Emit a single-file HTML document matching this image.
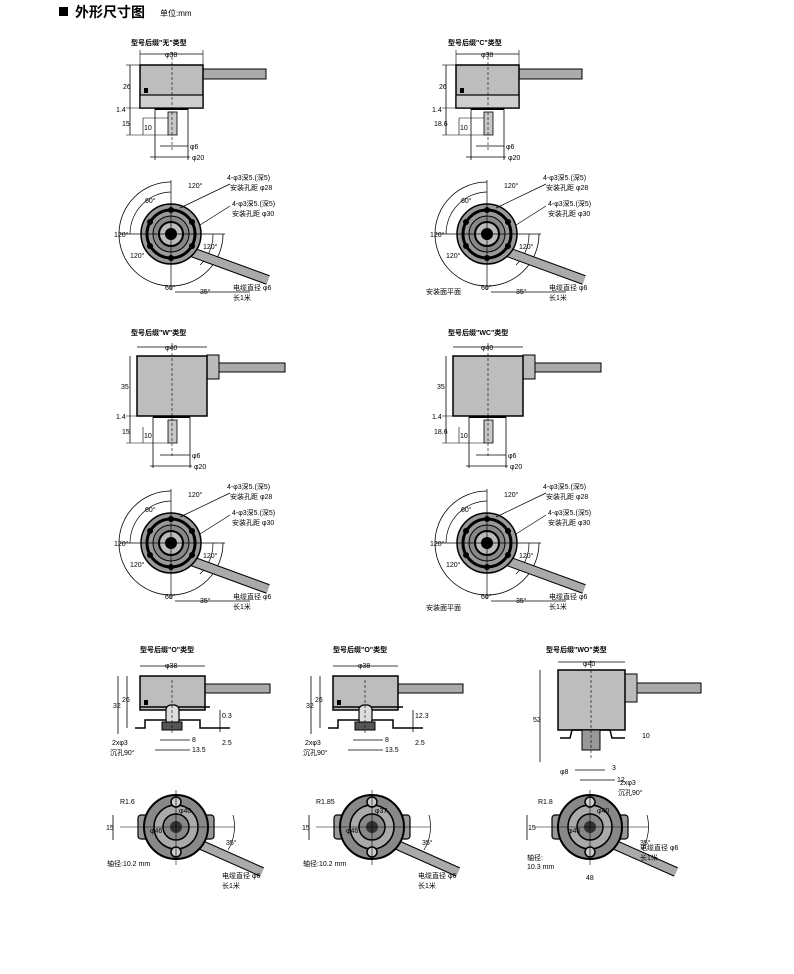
<!DOCTYPE html>
<html><head><meta charset="utf-8"><style>
html,body{margin:0;padding:0;background:#fff;}
svg{display:block;font-family:"Liberation Sans","Noto Sans CJK SC",sans-serif;}
text{font-size:7px;fill:#000;}
.b{font-weight:bold;}
</style></head><body>
<svg width="794" height="974" viewBox="0 0 794 974" xmlns="http://www.w3.org/2000/svg">
<defs>
<g id="side1">
  <line x1="140" y1="54" x2="203" y2="54" stroke="#000" stroke-width="0.8"/>
  <line x1="140" y1="50" x2="140" y2="65" stroke="#000" stroke-width="0.6"/>
  <line x1="203" y1="50" x2="203" y2="65" stroke="#000" stroke-width="0.6"/>
  <rect x="203" y="69" width="63" height="10" fill="#aaa" stroke="#000" stroke-width="1"/>
  <rect x="140" y="65" width="63" height="43" fill="#bdbdbd" stroke="#000" stroke-width="1.5"/>
  <rect x="140" y="95" width="63" height="13" fill="#cfcfcf" stroke="#000" stroke-width="1.2"/>
  <rect x="144" y="88" width="4" height="5" fill="#000"/>
  <line x1="155" y1="109" x2="188" y2="109" stroke="#000" stroke-width="2"/>
  <line x1="155" y1="109" x2="155" y2="160" stroke="#000" stroke-width="0.8"/>
  <line x1="188" y1="109" x2="188" y2="160" stroke="#000" stroke-width="0.8"/>
  <rect x="168" y="112" width="9" height="23" fill="#c8c8c8" stroke="#000" stroke-width="0.8"/>
  <line x1="172" y1="52" x2="172" y2="150" stroke="#000" stroke-width="0.6" stroke-dasharray="3,2"/>
  <line x1="130" y1="65" x2="130" y2="135" stroke="#000" stroke-width="0.8"/>
  <line x1="126" y1="65" x2="140" y2="65" stroke="#000" stroke-width="0.6"/>
  <line x1="126" y1="108" x2="155" y2="108" stroke="#000" stroke-width="0.6"/>
  <line x1="126" y1="135" x2="168" y2="135" stroke="#000" stroke-width="0.6"/>
  <line x1="143" y1="118" x2="143" y2="135" stroke="#000" stroke-width="0.6"/>
  <line x1="143" y1="118" x2="168" y2="118" stroke="#000" stroke-width="0.6"/>
  <line x1="160" y1="146" x2="188" y2="146" stroke="#000" stroke-width="0.8"/>
  <line x1="150" y1="157" x2="190" y2="157" stroke="#000" stroke-width="0.8"/>
</g>
<g id="circ1">
  <path d="M171 182 A52 52 0 1 0 223 234" fill="none" stroke="#000" stroke-width="0.8"/>
  <path d="M171 192 A42 42 0 0 0 130 234" fill="none" stroke="#000" stroke-width="0.7"/>
  <path d="M213 234 A42 42 0 0 1 200 265" fill="none" stroke="#000" stroke-width="0.7"/>
  <line x1="186" y1="250" x2="268" y2="280" stroke="#000" stroke-width="10"/>
  <line x1="186" y1="250" x2="268" y2="280" stroke="#aaa" stroke-width="8"/>
  <circle cx="171" cy="234" r="30" fill="#999" stroke="#000" stroke-width="1.5"/>
  <circle cx="171" cy="234" r="24" fill="none" stroke="#000" stroke-width="3"/>
  <circle cx="171" cy="234" r="18" fill="#888" stroke="#000" stroke-width="1"/>
  <circle cx="171" cy="234" r="12" fill="#bbb" stroke="#000" stroke-width="2"/>
  <circle cx="171" cy="234" r="6" fill="#000"/>
  <line x1="120" y1="234" x2="225" y2="234" stroke="#000" stroke-width="0.7"/>
  <line x1="171" y1="180" x2="171" y2="290" stroke="#000" stroke-width="0.7"/>
  <circle cx="171" cy="210" r="3" fill="#000"/><circle cx="171" cy="258" r="3" fill="#000"/>
  <circle cx="150" cy="222" r="3" fill="#000"/><circle cx="150" cy="246" r="3" fill="#000"/>
  <circle cx="192" cy="222" r="3" fill="#000"/><circle cx="192" cy="246" r="3" fill="#000"/>
  <line x1="180" y1="208" x2="230" y2="184" stroke="#000" stroke-width="0.7"/>
  <line x1="200" y1="225" x2="230" y2="206" stroke="#000" stroke-width="0.7"/>
  <path d="M175 292 L250 292" stroke="#000" stroke-width="0.7"/>
</g>
<g id="side2">
  <line x1="137" y1="347" x2="207" y2="347" stroke="#000" stroke-width="0.8"/>
  <rect x="207" y="363" width="78" height="9" fill="#aaa" stroke="#000" stroke-width="1"/>
  <rect x="207" y="355" width="12" height="24" fill="#bbb" stroke="#000" stroke-width="1"/>
  <rect x="137" y="356" width="70" height="60" fill="#bdbdbd" stroke="#000" stroke-width="1.5"/>
  <line x1="153" y1="417" x2="190" y2="417" stroke="#000" stroke-width="2"/>
  <line x1="153" y1="417" x2="153" y2="468" stroke="#000" stroke-width="0.8"/>
  <line x1="190" y1="417" x2="190" y2="468" stroke="#000" stroke-width="0.8"/>
  <rect x="168" y="420" width="9" height="23" fill="#c8c8c8" stroke="#000" stroke-width="0.8"/>
  <line x1="172" y1="343" x2="172" y2="458" stroke="#000" stroke-width="0.6" stroke-dasharray="3,2"/>
  <line x1="130" y1="356" x2="130" y2="443" stroke="#000" stroke-width="0.8"/>
  <line x1="126" y1="416" x2="153" y2="416" stroke="#000" stroke-width="0.6"/>
  <line x1="126" y1="443" x2="168" y2="443" stroke="#000" stroke-width="0.6"/>
  <line x1="143" y1="427" x2="143" y2="443" stroke="#000" stroke-width="0.6"/>
  <line x1="160" y1="455" x2="190" y2="455" stroke="#000" stroke-width="0.8"/>
  <line x1="150" y1="466" x2="192" y2="466" stroke="#000" stroke-width="0.8"/>
</g>
<g id="side3">
  <line x1="140" y1="666" x2="205" y2="666" stroke="#000" stroke-width="0.8"/>
  <rect x="205" y="684" width="65" height="9" fill="#aaa" stroke="#000" stroke-width="1"/>
  <rect x="140" y="676" width="65" height="34" fill="#bdbdbd" stroke="#000" stroke-width="1.5"/>
  <line x1="140" y1="707" x2="210" y2="707" stroke="#000" stroke-width="1.5"/>
  <rect x="144" y="700" width="4" height="5" fill="#000"/>
  <path d="M135 728 L145 728 L145 720 L200 720 L200 728 L230 728" fill="none" stroke="#000" stroke-width="1.5"/>
  <rect x="166" y="705" width="13" height="20" rx="5" fill="#ddd" stroke="#000" stroke-width="1.2"/>
  <rect x="162" y="722" width="20" height="8" fill="#555" stroke="#000"/>
  <line x1="127" y1="676" x2="127" y2="728" stroke="#000" stroke-width="0.8"/>
  <line x1="118" y1="676" x2="118" y2="734" stroke="#000" stroke-width="0.8"/>
  <line x1="172" y1="680" x2="172" y2="735" stroke="#000" stroke-width="0.6" stroke-dasharray="3,2"/>
  <line x1="160" y1="740" x2="190" y2="740" stroke="#000" stroke-width="0.8"/>
  <line x1="155" y1="750" x2="190" y2="750" stroke="#000" stroke-width="0.8"/>
  <line x1="220" y1="710" x2="220" y2="732" stroke="#000" stroke-width="0.8"/>
</g>
<g id="circ3">
  <line x1="190" y1="840" x2="262" y2="872" stroke="#000" stroke-width="10"/>
  <line x1="190" y1="840" x2="262" y2="872" stroke="#aaa" stroke-width="8"/>
  <rect x="138" y="815" width="14" height="24" rx="3" fill="#999" stroke="#000" stroke-width="1.2"/>
  <rect x="200" y="815" width="14" height="24" rx="3" fill="#999" stroke="#000" stroke-width="1.2"/>
  <circle cx="176" cy="827" r="32" fill="#888" stroke="#000" stroke-width="2"/>
  <circle cx="176" cy="827" r="22" fill="#aaa" stroke="#000" stroke-width="1.5"/>
  <circle cx="176" cy="827" r="13" fill="#888" stroke="#000" stroke-width="1.5"/>
  <circle cx="176" cy="827" r="6" fill="#333"/>
  <circle cx="176" cy="802" r="5" fill="#ccc" stroke="#000" stroke-width="1.5"/>
  <circle cx="176" cy="852" r="5" fill="#ccc" stroke="#000" stroke-width="1.5"/>
  <line x1="120" y1="827" x2="235" y2="827" stroke="#000" stroke-width="0.6"/>
  <line x1="176" y1="790" x2="176" y2="865" stroke="#000" stroke-width="0.6"/>
  <line x1="113" y1="815" x2="113" y2="840" stroke="#000" stroke-width="0.8"/>
  <path d="M233 815 A45 45 0 0 1 228 850" fill="none" stroke="#000" stroke-width="0.7"/>
</g>
</defs>

<rect x="59" y="7" width="9" height="9" fill="#000"/>
<text x="75" y="17" class="b" style="font-size:14px">外形尺寸图</text>
<text x="160" y="16" style="font-size:8px">单位:mm</text>

<!-- Row 1 -->
<use href="#side1"/><use href="#side1" x="316"/>
<use href="#circ1"/><use href="#circ1" x="316"/>
<g>
<text x="131" y="45" class="b">型号后缀"无"类型</text>
<text x="165" y="57">φ38</text><text x="123" y="89">26</text><text x="116" y="112">1.4</text><text x="122" y="126">15</text><text x="144" y="130">10</text>
<text x="190" y="149">φ6</text><text x="192" y="160">φ20</text>
<text x="448" y="45" class="b">型号后缀"C"类型</text>
<text x="481" y="57">φ38</text><text x="439" y="89">26</text><text x="432" y="112">1.4</text><text x="434" y="126">18.6</text><text x="460" y="130">10</text>
<text x="506" y="149">φ6</text><text x="508" y="160">φ20</text>
</g>
<g>
<text x="188" y="188">120°</text><text x="145" y="203">60°</text><text x="114" y="237">120°</text><text x="130" y="258">120°</text><text x="203" y="249">120°</text><text x="165" y="290">60°</text><text x="200" y="294">35°</text>
<text x="227" y="180">4-φ3深5.(深5)</text><text x="230" y="190">安装孔距 φ28</text>
<text x="232" y="206">4-φ3深5.(深5)</text><text x="232" y="216">安装孔距 φ30</text>
<text x="233" y="290">电缆直径 φ6</text><text x="233" y="300">长1米</text>
<text x="504" y="188">120°</text><text x="461" y="203">60°</text><text x="430" y="237">120°</text><text x="446" y="258">120°</text><text x="519" y="249">120°</text><text x="481" y="290">60°</text><text x="516" y="294">35°</text>
<text x="543" y="180">4-φ3深5.(深5)</text><text x="546" y="190">安装孔距 φ28</text>
<text x="548" y="206">4-φ3深5.(深5)</text><text x="548" y="216">安装孔距 φ30</text>
<text x="549" y="290">电缆直径 φ6</text><text x="549" y="300">长1米</text>
<text x="426" y="294">安装面平面</text>
</g>

<!-- Row 2 -->
<use href="#side2"/><use href="#side2" x="316"/>
<use href="#circ1" y="309"/><use href="#circ1" x="316" y="309"/>
<g>
<text x="131" y="335" class="b">型号后缀"W"类型</text>
<text x="165" y="350">φ40</text><text x="121" y="389">35</text><text x="116" y="419">1.4</text><text x="122" y="434">15</text><text x="144" y="438">10</text>
<text x="192" y="458">φ6</text><text x="194" y="469">φ20</text>
<text x="448" y="335" class="b">型号后缀"WC"类型</text>
<text x="481" y="350">φ40</text><text x="437" y="389">35</text><text x="432" y="419">1.4</text><text x="434" y="434">18.6</text><text x="460" y="438">10</text>
<text x="508" y="458">φ6</text><text x="510" y="469">φ20</text>
<text x="188" y="497">120°</text><text x="145" y="512">60°</text><text x="114" y="546">120°</text><text x="130" y="567">120°</text><text x="203" y="558">120°</text><text x="165" y="599">60°</text><text x="200" y="603">35°</text>
<text x="227" y="489">4-φ3深5.(深5)</text><text x="230" y="499">安装孔距 φ28</text>
<text x="232" y="515">4-φ3深5.(深5)</text><text x="232" y="525">安装孔距 φ30</text>
<text x="233" y="599">电缆直径 φ6</text><text x="233" y="609">长1米</text>
<text x="504" y="497">120°</text><text x="461" y="512">60°</text><text x="430" y="546">120°</text><text x="446" y="567">120°</text><text x="519" y="558">120°</text><text x="481" y="599">60°</text><text x="516" y="603">35°</text>
<text x="543" y="489">4-φ3深5.(深5)</text><text x="546" y="499">安装孔距 φ28</text>
<text x="548" y="515">4-φ3深5.(深5)</text><text x="548" y="525">安装孔距 φ30</text>
<text x="549" y="599">电缆直径 φ6</text><text x="549" y="609">长1米</text>
<text x="426" y="610">安装面平面</text>
</g>

<!-- Row 3 -->
<use href="#side3"/><use href="#side3" x="193"/>
<g>
  <line x1="558" y1="662" x2="625" y2="662" stroke="#000" stroke-width="0.8"/>
  <rect x="625" y="683" width="76" height="10" fill="#aaa" stroke="#000" stroke-width="1"/>
  <rect x="625" y="674" width="12" height="28" fill="#bbb" stroke="#000" stroke-width="1"/>
  <rect x="558" y="670" width="67" height="60" fill="#bdbdbd" stroke="#000" stroke-width="1.5"/>
  <path d="M560 738 L570 738 L572 730 L610 730 L612 738 L625 738" fill="none" stroke="#000" stroke-width="1.5"/>
  <rect x="582" y="730" width="18" height="20" fill="#999" stroke="#000"/>
  <line x1="591" y1="660" x2="591" y2="760" stroke="#000" stroke-width="0.6" stroke-dasharray="3,2"/>
  <line x1="540" y1="670" x2="540" y2="762" stroke="#000" stroke-width="0.8"/>
  <line x1="575" y1="770" x2="605" y2="770" stroke="#000" stroke-width="0.8"/>
  <line x1="580" y1="780" x2="615" y2="780" stroke="#000" stroke-width="0.8"/>
</g>
<use href="#circ3"/><use href="#circ3" x="196"/><use href="#circ3" x="414"/>
<g>
<text x="140" y="652" class="b">型号后缀"O"类型</text>
<text x="165" y="668">φ38</text><text x="122" y="702">26</text><text x="113" y="708">32</text>
<text x="222" y="718">0.3</text><text x="222" y="745">2.5</text><text x="192" y="742">8</text><text x="192" y="752">13.5</text>
<text x="112" y="745">2xφ3</text><text x="110" y="755">沉孔90°</text>
<text x="120" y="804">R1.6</text><text x="106" y="830">15</text><text x="179" y="813">φ40</text><text x="150" y="833">φ46</text><text x="226" y="845">35°</text>
<text x="107" y="866">轴径:10.2 mm</text><text x="222" y="878">电缆直径 φ6</text><text x="222" y="888">长1米</text>
<text x="333" y="652" class="b">型号后缀"O"类型</text>
<text x="358" y="668">φ38</text><text x="315" y="702">26</text><text x="306" y="708">32</text>
<text x="415" y="718">12.3</text><text x="415" y="745">2.5</text><text x="385" y="742">8</text><text x="385" y="752">13.5</text>
<text x="305" y="745">2xφ3</text><text x="303" y="755">沉孔90°</text>
<text x="316" y="804">R1.85</text><text x="302" y="830">15</text><text x="375" y="813">φ37</text><text x="346" y="833">φ46</text><text x="422" y="845">35°</text>
<text x="303" y="866">轴径:10.2 mm</text><text x="418" y="878">电缆直径 φ6</text><text x="418" y="888">长1米</text>
<text x="546" y="652" class="b">型号后缀"WO"类型</text>
<text x="583" y="666">φ40</text><text x="533" y="722">52</text>
<text x="642" y="738">10</text><text x="560" y="774">φ8</text><text x="617" y="782">12</text><text x="612" y="770">3</text>
<text x="620" y="785">2xφ3</text><text x="618" y="795">沉孔90°</text>
<text x="538" y="804">R1.8</text><text x="528" y="830">15</text><text x="597" y="813">φ40</text><text x="568" y="833">φ46</text><text x="640" y="845">35°</text>
<text x="527" y="860">轴径:</text><text x="527" y="869">10.3 mm</text><text x="640" y="850">电缆直径 φ6</text><text x="640" y="860">长1米</text>
<text x="586" y="880">48</text>
</g>
</svg>
</body></html>
